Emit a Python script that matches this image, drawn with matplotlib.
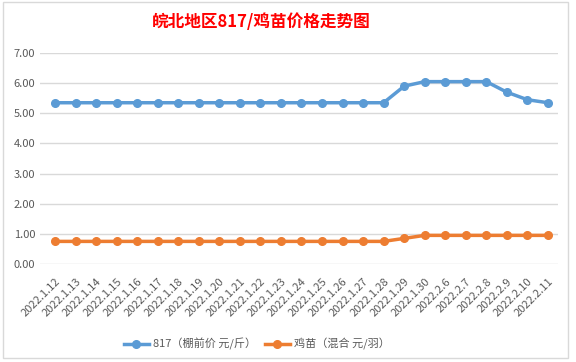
import matplotlib.pyplot as plt
from matplotlib.patches import Rectangle

plt.rcParams['font.family'] = ['Noto Sans CJK SC', 'DejaVu Sans']

dates = ["2022.1.12", "2022.1.13", "2022.1.14", "2022.1.15", "2022.1.16",
         "2022.1.17", "2022.1.18", "2022.1.19", "2022.1.20", "2022.1.21",
         "2022.1.22", "2022.1.23", "2022.1.24", "2022.1.25", "2022.1.26",
         "2022.1.27", "2022.1.28", "2022.1.29", "2022.1.30", "2022.2.6",
         "2022.2.7", "2022.2.8", "2022.2.9", "2022.2.10", "2022.2.11"]
price_817 = [5.35] * 17 + [5.90, 6.05, 6.05, 6.05, 6.05, 5.70, 5.45, 5.35]
price_chick = [0.75] * 17 + [0.85, 0.95, 0.95, 0.95, 0.95, 0.95, 0.95, 0.95]
yticks = [0, 1, 2, 3, 4, 5, 6, 7]

fig = plt.figure(figsize=(5.76, 3.62), dpi=100)
fig.patches.append(Rectangle((3 / 576, 4 / 362), 565 / 576, 356 / 362,
                             transform=fig.transFigure, fill=False,
                             edgecolor="#d9d9d9", linewidth=1))
ax = fig.add_axes([40 / 576, 1 - 264 / 362, 518 / 576, 211 / 362])

x = list(range(len(dates)))
ax.plot(x, price_817, color="#5b9bd5", linewidth=2.5, marker="o",
        markersize=5.5, label="817（棚前价 元/斤）")
ax.plot(x, price_chick, color="#ed7d31", linewidth=2.5, marker="o",
        markersize=5.5, label="鸡苗（混合 元/羽）")

ax.set_ylim(0, 7)
ax.set_xlim(-0.73, 24.49)
ax.set_yticks(yticks)
ax.set_yticklabels([f"{v:.2f}" for v in yticks])
ax.set_xticks(x)
ax.set_xticklabels(dates, rotation=45, ha="right", rotation_mode="anchor")
ax.tick_params(axis="both", length=0, labelsize=8, colors="#595959")
ax.tick_params(axis="x", pad=9)
ax.grid(axis="y", color="#d9d9d9", linewidth=1)
ax.set_axisbelow(True)
for s in ax.spines.values():
    s.set_visible(False)

fig.text(261 / 576, 1 - 22 / 362, "皖北地区817/鸡苗价格走势图", ha="center", va="center",
         color="red", fontsize=12, fontweight="bold")
fig.legend(loc="center", bbox_to_anchor=(257 / 576, 1 - 344 / 362), ncol=2,
           frameon=False, fontsize=8, labelcolor="#595959",
           handlelength=2.2, handletextpad=0.4, columnspacing=0.8)

fig.savefig("out.png", dpi=100)
